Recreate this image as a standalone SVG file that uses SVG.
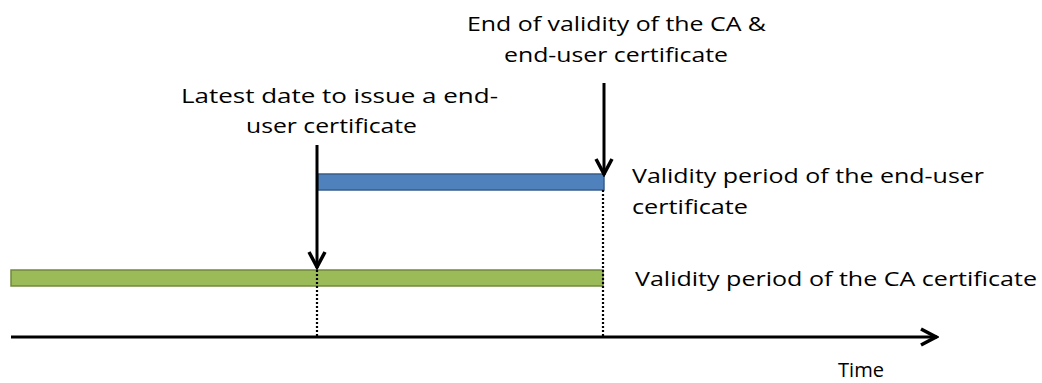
<svg xmlns="http://www.w3.org/2000/svg" width="1042" height="383" viewBox="0 0 1042 383">
<style>
text{font-family:"Open Sans","Liberation Sans",sans-serif;font-size:20px;fill:#000}
.ln{stroke:#000;stroke-width:3;fill:none}
.dot{stroke:#000;stroke-width:2.2;stroke-dasharray:2 2;fill:none}
</style>
<defs>
<marker id="ahb" viewBox="0 0 20 20" refX="18" refY="10" markerWidth="20" markerHeight="20" markerUnits="userSpaceOnUse" orient="auto">
<path d="M2,2 L17,10 L2,18" fill="none" stroke="#000" stroke-width="3.5"/>
</marker>
</defs>
<g id="ca-bar"><rect x="11" y="270" width="592" height="16" fill="#9bbb59" stroke="#71893f" stroke-width="1.5"/></g>
<g id="eu-bar"><rect x="318" y="174" width="286" height="16" fill="#4f81bd" stroke="#385d8a" stroke-width="1.5"/></g>
<g id="connectors">
<line class="dot" x1="317" y1="270" x2="317" y2="336"/>
<line class="dot" x1="603" y1="190" x2="603" y2="336"/>
<line class="ln" x1="317" y1="145" x2="317" y2="268" marker-end="url(#ahb)"/>
<line class="ln" x1="604" y1="83" x2="604" y2="175" marker-end="url(#ahb)"/>
<line class="ln" x1="11" y1="337" x2="937" y2="337" marker-end="url(#ahb)"/>
</g>
<g id="label-end">
<text x="467" y="31" textLength="299" lengthAdjust="spacingAndGlyphs">End of validity of the CA &amp;</text>
<text x="504" y="62" textLength="224" lengthAdjust="spacingAndGlyphs">end-user certificate</text>
</g>
<g id="label-latest">
<text x="181" y="103" textLength="317" lengthAdjust="spacingAndGlyphs">Latest date to issue a end-</text>
<text x="246" y="133" textLength="171" lengthAdjust="spacingAndGlyphs">user certificate</text>
</g>
<g id="label-eu">
<text x="632" y="183" textLength="352" lengthAdjust="spacingAndGlyphs">Validity period of the end-user</text>
<text x="632" y="214" textLength="116" lengthAdjust="spacingAndGlyphs">certificate</text>
</g>
<g id="label-ca"><text x="635" y="286" textLength="402" lengthAdjust="spacingAndGlyphs">Validity period of the CA certificate</text></g>
<g id="label-time"><text x="838" y="377" textLength="46" lengthAdjust="spacingAndGlyphs">Time</text></g>
</svg>
